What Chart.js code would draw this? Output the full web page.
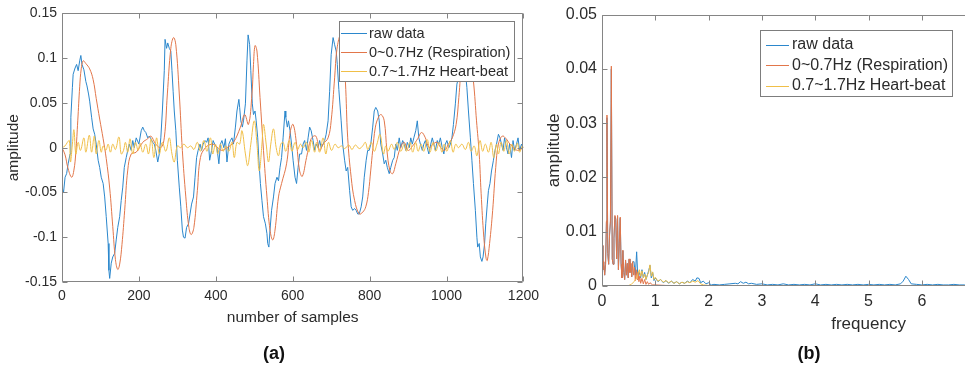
<!DOCTYPE html>
<html><head><meta charset="utf-8">
<script src="https://cdn.jsdelivr.net/npm/chart.js@4.4.1/dist/chart.umd.min.js"></script>
<style>
html,body{margin:0;padding:0;background:#fff;overflow:hidden;width:965px;height:367px;}
#wrap{position:relative;width:965px;height:367px;overflow:hidden;}
#ca{position:absolute;left:0;top:0;}
#cb{position:absolute;left:540px;top:0;}
.lab{position:absolute;font-family:"Liberation Sans",Arial,sans-serif;font-weight:bold;font-size:18px;color:#111;transform:translate(-50%,-50%);white-space:nowrap;}
</style></head><body>
<div id="wrap">
<canvas id="ca" width="545" height="367"></canvas>
<canvas id="cb" width="610" height="367"></canvas>
<div class="lab" style="left:274px;top:353px">(a)</div>
<div class="lab" style="left:809px;top:353px">(b)</div>
</div>
<script>
// ---------- labels ----------
const seriesNames = ['raw data', '0~0.7Hz (Respiration)', '0.7~1.7Hz Heart-beat'];
const panelA = { xTitle: 'number of samples', yTitle: 'amplitude' };
const panelB = { xTitle: 'frequency', yTitle: 'amplitude' };

// ---------- tick labels ----------
const xTicksA = [0, 200, 400, 600, 800, 1000, 1200];
const yTicksA = [-0.15, -0.1, -0.05, 0, 0.05, 0.1, 0.15];
const xTicksB = [0, 1, 2, 3, 4, 5, 6, 7, 8, 9, 10];
const yTicksB = [0, 0.01, 0.02, 0.03, 0.04, 0.05];

// ---------- (a) raw data ----------
const rawX = [0,4,8,12,16,21,23,27,29,34,
38,42,46,49,52,57,62,65,69,72,
77,81,85,89,94,98,102,107,111,115,
120,122,124,128,132,137,141,145,150,154,
158,162,167,171,175,180,184,188,193,200,
206,210,214,218,223,227,231,236,240,244,
249,253,257,261,266,268,272,275,279,283,
286,289,292,296,300,305,309,313,316,320,
324,329,333,337,342,346,350,354,359,363,
367,372,376,380,384,389,393,397,403,408,
412,416,421,425,429,434,438,442,446,451,
455,460,462,465,469,472,477,481,484,488,
491,495,498,502,505,509,512,516,520,524,
529,533,535,538,541,545,550,554,559,563,
567,571,575,580,582,586,589,593,597,601,
606,610,614,618,623,627,631,636,640,644,
648,653,657,661,666,670,674,679,683,687,
692,696,700,705,709,713,716,720,726,730,
735,739,743,748,752,756,761,765,769,773,
778,782,786,791,795,799,803,808,812,816,
821,825,829,834,838,842,846,851,855,860,
864,868,872,877,881,886,890,894,898,903,
907,911,915,920,924,928,932,937,941,945,
950,954,959,963,967,971,976,980,984,989,
993,997,1001,1006,1010,1014,1018,1023,1027,1031,
1038,1044,1049,1053,1057,1062,1066,1070,1075,1079,
1081,1085,1088,1092,1095,1099,1102,1106,1109,1113,
1117,1122,1126,1130,1135,1139,1143,1147,1151,1156,
1160,1164,1169,1173,1177,1182,1186,1190,1195,1199];
const rawY = [-0.044,-0.050,-0.033,-0.029,-0.018,-0.007,0.034,0.067,0.082,0.089,
0.093,0.086,0.097,0.103,0.093,0.087,0.074,0.069,0.060,0.052,
0.034,0.021,0.015,0.004,-0.014,-0.022,-0.033,-0.040,-0.055,-0.077,
-0.107,-0.137,-0.146,-0.129,-0.122,-0.118,-0.103,-0.089,-0.077,-0.059,
-0.044,-0.022,-0.011,-0.003,0.004,-0.003,0.008,0.000,0.011,0.004,
0.019,0.023,0.019,0.017,0.011,0.013,0.010,0.006,0.004,-0.003,
-0.016,-0.007,0.011,0.041,0.086,0.121,0.111,0.117,0.111,0.108,
0.086,0.063,0.041,0.019,-0.014,-0.044,-0.066,-0.092,-0.100,-0.101,
-0.089,-0.085,-0.074,-0.063,-0.055,-0.033,-0.011,-0.003,0.004,-0.003,
0.004,0.008,0.006,0.011,-0.014,-0.003,0.008,0.004,0.000,-0.018,
0.004,0.008,0.000,0.010,-0.016,0.004,0.008,0.011,0.004,0.023,
0.041,0.054,0.045,0.030,0.023,0.030,0.049,0.097,0.126,0.115,
0.086,0.049,0.037,0.041,0.030,0.011,-0.014,-0.040,-0.059,-0.077,
-0.085,-0.096,-0.107,-0.111,-0.092,-0.070,-0.055,-0.040,-0.033,-0.037,
-0.022,-0.011,0.011,0.041,0.034,0.023,0.030,0.019,0.004,-0.014,
-0.033,-0.040,-0.022,-0.007,-0.007,0.004,0.008,-0.003,0.011,0.023,
0.019,0.008,-0.003,0.004,0.000,0.008,0.000,0.004,0.008,0.015,
0.030,0.063,0.104,0.123,0.115,0.108,0.093,0.065,0.030,0.004,
-0.014,-0.026,-0.022,-0.048,-0.066,-0.070,-0.068,-0.070,-0.074,-0.074,
-0.066,-0.055,-0.033,-0.014,-0.003,-0.003,0.004,0.023,0.041,0.045,
0.041,0.030,0.004,-0.007,-0.018,-0.014,-0.022,-0.029,-0.022,-0.014,
-0.011,0.004,-0.003,0.011,0.000,0.008,0.004,-0.003,0.006,0.000,
0.011,0.004,0.011,0.019,0.030,0.011,0.004,-0.003,0.004,0.008,
0.000,-0.007,0.004,0.011,0.004,-0.003,0.008,0.004,0.011,0.000,
-0.007,0.004,0.008,0.000,0.004,0.011,0.026,0.049,0.071,0.078,
0.090,0.095,0.085,0.067,0.041,0.011,-0.014,-0.040,-0.070,-0.100,
-0.111,-0.107,-0.122,-0.127,-0.122,-0.107,-0.085,-0.063,-0.048,-0.040,
-0.026,-0.014,-0.003,0.004,0.015,0.011,0.004,-0.003,0.011,0.000,
-0.007,0.004,-0.011,0.008,-0.003,0.004,0.011,-0.003,0.004,0.000];

// ---------- (a) respiration band ----------
const respX = [0,8,15,25,31,36,41,46,50,55,
62,72,81,89,98,107,115,124,132,139,
145,150,156,163,171,180,193,210,223,231,
244,257,266,274,283,290,296,305,313,322,
330,336,343,352,360,373,390,400,415,429,
446,464,475,485,494,498,502,507,515,524,
533,541,548,554,563,571,584,594,601,610,
618,625,636,648,660,670,679,692,700,709,
715,724,732,737,743,752,761,773,782,790,
797,803,808,815,823,830,838,845,853,860,
868,880,890,900,912,925,935,945,955,965,
975,985,995,1005,1015,1025,1032,1040,1050,1060,
1070,1078,1085,1090,1097,1103,1106,1112,1120,1128,
1135,1145,1155,1165,1175,1185,1200];
const respY = [0.000,-0.008,-0.022,-0.033,-0.025,-0.005,0.030,0.068,0.088,0.097,
0.094,0.088,0.076,0.055,0.032,0.010,-0.012,-0.045,-0.088,-0.125,
-0.136,-0.130,-0.108,-0.070,-0.025,-0.007,-0.005,0.006,0.010,0.013,
0.004,0.000,0.011,0.060,0.111,0.123,0.115,0.060,-0.003,-0.055,
-0.089,-0.097,-0.089,-0.048,-0.011,0.000,0.004,0.002,-0.003,0.000,
0.006,0.023,0.037,0.026,0.060,0.093,0.114,0.108,0.056,-0.003,
-0.055,-0.092,-0.103,-0.092,-0.055,-0.040,-0.018,0.019,0.026,0.004,
-0.026,-0.032,-0.011,0.010,0.013,-0.003,0.004,0.011,0.030,0.078,
0.110,0.125,0.100,0.074,0.011,-0.033,-0.059,-0.074,-0.072,-0.066,
-0.050,-0.025,-0.003,0.023,0.034,0.037,0.030,-0.003,-0.026,-0.029,
-0.018,0.000,0.006,-0.003,0.002,0.010,0.017,0.011,0.000,0.004,
0.006,0.000,-0.003,0.004,0.011,0.026,0.056,0.097,0.118,0.105,
0.074,0.030,-0.007,-0.051,-0.100,-0.124,-0.126,-0.107,-0.070,-0.022,
0.004,0.013,0.010,0.004,0.000,-0.003,0.000];

// ---------- (a) heart-beat band ----------
const heartX = [0,8,14,19,22,27,31,36,42,48,
57,62,71,77,84,89,96,102,107,114,
120,126,132,139,148,154,160,165,171,177,
184,191,198,203,210,218,225,232,239,246,
253,261,270,279,286,292,300,309,317,326,
335,343,352,360,369,377,386,392,399,405,
412,419,426,434,442,448,455,462,468,477,
483,491,500,507,513,520,524,531,537,543,
550,557,563,569,575,582,591,598,606,613,
620,627,636,642,649,657,662,670,679,686,
693,701,710,718,727,735,746,754,763,773,
782,789,795,800,805,812,819,827,836,842,
848,857,864,872,881,890,896,905,912,920,
926,934,941,950,957,965,972,981,988,994,
1001,1010,1017,1024,1031,1040,1049,1057,1064,1072,
1079,1087,1094,1101,1109,1116,1123,1130,1135,1142,
1149,1156,1163,1170,1177,1184,1190,1197,1200];
const heartY = [0.000,0.002,0.006,0.008,-0.016,0.004,0.020,-0.007,0.006,-0.003,
0.011,-0.005,0.014,-0.005,0.013,-0.007,0.008,-0.005,0.002,-0.003,
0.004,-0.005,0.004,-0.002,0.012,-0.007,-0.003,0.006,-0.005,0.010,
-0.007,0.006,-0.003,0.005,-0.005,0.004,-0.007,0.010,-0.011,0.011,
-0.007,0.006,-0.004,0.011,-0.007,-0.016,0.002,0.000,0.004,0.000,
0.002,-0.002,0.006,-0.004,0.008,-0.004,0.011,-0.007,0.004,-0.007,
0.004,-0.004,0.002,-0.004,0.006,-0.011,0.006,0.004,0.019,-0.007,
-0.020,0.004,0.030,0.004,-0.026,0.004,0.026,0.004,-0.016,0.004,
0.021,0.000,-0.009,0.004,0.006,-0.004,0.008,-0.004,0.006,-0.002,
0.004,0.000,0.006,-0.005,0.008,-0.005,0.006,-0.005,0.011,-0.007,
0.006,-0.003,0.004,0.000,0.002,-0.001,0.003,-0.002,0.003,-0.001,
0.002,0.006,-0.002,0.002,0.006,-0.004,0.004,0.015,-0.007,0.002,
-0.004,0.004,-0.002,0.006,-0.004,0.004,-0.004,0.006,-0.005,0.006,
-0.004,0.004,-0.004,0.009,-0.005,0.006,-0.004,0.006,-0.005,0.004,
-0.004,0.008,-0.005,0.004,0.000,0.004,-0.002,0.006,-0.004,0.002,
-0.009,0.008,-0.004,0.004,-0.005,0.006,-0.011,0.004,-0.007,0.006,
-0.004,0.008,-0.007,0.004,-0.004,0.005,-0.005,0.002,0.000];

// ---------- (b) spectra ----------
const rawFX = [0,0.017,0.033,0.05,0.067,0.083,0.093,0.108,0.125,0.142,
0.158,0.175,0.192,0.208,0.225,0.242,0.258,0.275,0.292,0.308,
0.325,0.342,0.358,0.375,0.392,0.408,0.425,0.442,0.458,0.475,
0.492,0.508,0.525,0.542,0.558,0.575,0.6,0.625,0.65,0.67,
0.7,0.725,0.75,0.775,0.8,0.825,0.85,0.875,0.9,0.925,
0.95,0.975,1.0,1.05,1.1,1.15,1.2,1.25,1.3,1.35,
1.4,1.45,1.5,1.55,1.6,1.65,1.7,1.75,1.78,1.82,
1.85,1.9,1.95,2.0,2.05,2.1,2.2,2.3,2.4,2.5,
2.55,2.6,2.65,2.7,2.75,2.8,2.9,3.0,3.1,3.2,
3.3,3.4,3.5,3.6,3.7,3.8,3.9,4.0,4.1,4.2,
4.3,4.4,4.5,4.6,4.7,4.8,4.9,5.0,5.1,5.2,
5.3,5.4,5.5,5.6,5.65,5.7,5.75,5.8,5.9,6.0,
6.1,6.2,6.3,6.4,6.5,6.6,6.7,6.8,7,8,
9,10];
const rawFY = [0.0074,0.003,0.0044,0.002,0.004,0.0118,0.031,0.006,0.004,0.0094,
0.0118,0.040,0.005,0.004,0.0088,0.0128,0.0123,0.005,0.0128,0.003,
0.0079,0.0125,0.004,0.0015,0.0065,0.0025,0.0012,0.0047,0.002,0.0041,
0.0015,0.0049,0.0025,0.0041,0.0017,0.0044,0.0045,0.002,0.0063,0.002,
0.0025,0.0015,0.003,0.0015,0.0025,0.0012,0.002,0.0028,0.0038,0.0015,
0.0025,0.001,0.0015,0.0008,0.0012,0.0006,0.001,0.0005,0.0009,0.0005,
0.0008,0.0004,0.0007,0.0005,0.0009,0.0006,0.0012,0.0009,0.0015,0.0014,
0.0006,0.0009,0.0004,0.0006,0.0002,0.0003,0.0002,0.0003,0.0004,0.0005,
0.0004,0.0008,0.0005,0.0007,0.0004,0.0005,0.0003,0.0004,0.0002,0.0003,
0.0002,0.0004,0.0002,0.0003,0.0002,0.0003,0.0002,0.0004,0.0002,0.0003,
0.0002,0.0003,0.0002,0.0003,0.0002,0.0003,0.0002,0.0003,0.0002,0.0003,
0.0002,0.0003,0.0002,0.0004,0.0009,0.0018,0.0012,0.0004,0.0003,0.0002,
0.0003,0.0002,0.0003,0.0002,0.0002,0.0003,0.0002,0.0002,0.0002,0.0002,
0.0002,0.0002];
const respFX = [0,0.017,0.033,0.05,0.067,0.083,0.093,0.108,0.125,0.142,
0.158,0.175,0.192,0.208,0.225,0.242,0.258,0.275,0.292,0.308,
0.325,0.342,0.358,0.375,0.392,0.408,0.425,0.442,0.458,0.475,
0.492,0.508,0.525,0.542,0.558,0.575,0.592,0.608,0.625,0.642,
0.658,0.675,0.692,0.708,0.725,0.75,0.775,0.8,0.825,0.85,
0.875,0.9,0.95,1.0,1.2,2,10];
const respFY = [0.0075,0.003,0.0045,0.002,0.004,0.012,0.0315,0.006,0.004,0.0095,
0.012,0.0405,0.005,0.004,0.009,0.013,0.0125,0.005,0.013,0.003,
0.008,0.0127,0.004,0.0015,0.0066,0.0025,0.0012,0.0048,0.002,0.0042,
0.0015,0.005,0.0025,0.0042,0.0017,0.0045,0.002,0.0035,0.001,0.003,
0.0012,0.0026,0.0008,0.0018,0.0005,0.0014,0.0004,0.0012,0.0003,0.0008,
0.0003,0.0006,0.0002,0.0002,0.0001,0.00005,0];
const heartFX = [0,0.5,0.55,0.6,0.65,0.7,0.725,0.75,0.775,0.8,
0.825,0.85,0.875,0.9,0.925,0.95,0.975,1.0,1.05,1.1,
1.15,1.2,1.25,1.3,1.35,1.4,1.45,1.5,1.55,1.6,
1.65,1.7,1.75,1.8,1.85,1.9,2.0,2.5,10];
const heartFY = [0,0.0001,0.0003,0.0008,0.0015,0.003,0.0018,0.0028,0.0015,0.0022,
0.0012,0.002,0.0025,0.0039,0.0018,0.0026,0.0012,0.0016,0.0009,0.0012,
0.0007,0.001,0.0006,0.0009,0.0005,0.0008,0.0004,0.0007,0.0005,0.0008,
0.0006,0.0009,0.0007,0.001,0.0004,0.0002,0.0001,0,0];

// ---------- styling ----------
const colors = ['#2b87cc', '#e2764a', '#f0bf48'];
const textColor = '#2b2b2b';
const frameColor = '#858585';
const FONT = '"Liberation Sans", Arial, sans-serif';
Chart.defaults.font.family = FONT;
Chart.defaults.color = textColor;

const pts = (xs, ys) => xs.map((x, i) => ({ x: x, y: ys[i] }));

const framePlugin = {
  id: 'matlabFrame',
  afterDatasetsDraw(chart, args, opts) {
    const { ctx, chartArea: a, scales } = chart;
    ctx.save();
    ctx.lineWidth = 1;
    ctx.strokeStyle = frameColor;
    const L = Math.round(a.left) + 0.5, R = Math.round(a.right) - 0.5;
    const T = Math.round(a.top) + 0.5, B = Math.round(a.bottom) - 0.5;
    const tl = opts.tickLen;
    ctx.beginPath();
    ctx.rect(L, T, R - L, B - T);
    scales.x.ticks.forEach(t => {
      const p = Math.round(scales.x.getPixelForValue(t.value)) + 0.5;
      if (p < a.left - 1 || p > a.right + 1) return;
      ctx.moveTo(p, B); ctx.lineTo(p, B - tl);
      ctx.moveTo(p, T); ctx.lineTo(p, T + tl);
    });
    scales.y.ticks.forEach(t => {
      const p = Math.round(scales.y.getPixelForValue(t.value)) + 0.5;
      ctx.moveTo(L, p); ctx.lineTo(L + tl, p);
      ctx.moveTo(R, p); ctx.lineTo(R - tl, p);
    });
    ctx.stroke();
    // legend
    const lg = opts.legend;
    ctx.fillStyle = '#ffffff';
    ctx.fillRect(lg.x, lg.y, lg.w, lg.h);
    ctx.strokeStyle = '#7d7d7d';
    ctx.strokeRect(lg.x + 0.5, lg.y + 0.5, lg.w, lg.h);
    ctx.font = lg.font;
    ctx.textBaseline = 'middle';
    ctx.textAlign = 'left';
    chart.data.datasets.forEach((ds, i) => {
      const y = lg.rows[i];
      ctx.strokeStyle = ds.borderColor;
      ctx.beginPath();
      ctx.moveTo(lg.x1, Math.round(y) + 0.5);
      ctx.lineTo(lg.x2, Math.round(y) + 0.5);
      ctx.stroke();
      ctx.fillStyle = textColor;
      ctx.fillText(ds.label, lg.tx, y + 0.5);
    });
    ctx.restore();
  }
};

function fixedTicks(arr) {
  return function (scale) { scale.ticks = arr.map(v => ({ value: v })); };
}

function makeChart(canvas, cfg) {
  return new Chart(canvas, {
    type: 'line',
    data: {
      datasets: [
        { label: seriesNames[0], data: cfg.d0, borderColor: colors[0], borderWidth: 1, pointRadius: 0, tension: cfg.t0, order: 3 },
        { label: seriesNames[1], data: cfg.d1, borderColor: colors[1], borderWidth: 1, pointRadius: 0, tension: cfg.t1, order: 2 },
        { label: seriesNames[2], data: cfg.d2, borderColor: colors[2], borderWidth: 1, pointRadius: 0, tension: cfg.t2, order: 1 }
      ]
    },
    options: {
      responsive: false,
      animation: false,
      events: [],
      layout: { padding: cfg.padding },
      plugins: {
        legend: { display: false },
        tooltip: { enabled: false },
        matlabFrame: { tickLen: cfg.tickLen, legend: cfg.legend }
      },
      scales: {
        x: {
          type: 'linear', min: cfg.xMin, max: cfg.xMax,
          grid: { display: false, drawTicks: false },
          border: { display: false },
          afterBuildTicks: fixedTicks(cfg.xTicks),
          afterFit: s => { s.height = cfg.xHeight; },
          ticks: { autoSkip: false, maxRotation: 0, padding: cfg.xTickPad, color: textColor,
                   font: { size: cfg.tickFont, family: FONT }, callback: v => String(v) },
          title: { display: true, text: cfg.xTitle, color: textColor,
                   font: { size: cfg.titleFont, family: FONT, lineHeight: 1 },
                   padding: { top: 0, bottom: cfg.xTitlePad } }
        },
        y: {
          type: 'linear', min: cfg.yMin, max: cfg.yMax,
          grid: { display: false, drawTicks: false },
          border: { display: false },
          afterBuildTicks: fixedTicks(cfg.yTicks),
          afterFit: s => { s.width = cfg.yWidth; },
          ticks: { autoSkip: false, padding: 5, color: textColor,
                   font: { size: cfg.tickFont, family: FONT }, callback: v => String(v) },
          title: { display: true, text: cfg.yTitle, color: textColor,
                   font: { size: cfg.titleFont, family: FONT, lineHeight: 1 },
                   padding: { top: cfg.yTitlePad, bottom: 0 } }
        }
      }
    },
    plugins: [framePlugin]
  });
}

makeChart(document.getElementById('ca'), {
  d0: pts(rawX, rawY), d1: pts(respX, respY), d2: pts(heartX, heartY),
  t0: 0, t1: 0.4, t2: 0.4,
  padding: { left: 0, right: 18, top: 12, bottom: 25 },
  xMin: 0, xMax: 1200, yMin: -0.15, yMax: 0.15,
  xTicks: xTicksA, yTicks: yTicksA,
  xHeight: 60, yWidth: 62, xTickPad: 6, tickFont: 14, titleFont: 15.5,
  xTitle: panelA.xTitle, yTitle: panelA.yTitle, xTitlePad: 17, yTitlePad: 6,
  tickLen: 5,
  legend: { x: 339, y: 21, w: 175, h: 60, x1: 341, x2: 367, tx: 369, rows: [33, 52, 71],
            font: '14.5px ' + FONT }
});

makeChart(document.getElementById('cb'), {
  d0: pts(rawFX, rawFY), d1: pts(respFX, respFY), d2: pts(heartFX, heartFY),
  t0: 0, t1: 0, t2: 0,
  padding: { left: 0, right: 11, top: 13, bottom: 21 },
  xMin: 0, xMax: 10, yMin: 0, yMax: 0.05,
  xTicks: xTicksB, yTicks: yTicksB,
  xHeight: 60, yWidth: 62, xTickPad: 6, tickFont: 16, titleFont: 17,
  xTitle: panelB.xTitle, yTitle: panelB.yTitle, xTitlePad: 13.5, yTitlePad: 5.5,
  tickLen: 5,
  legend: { x: 220, y: 30, w: 192, h: 66, x1: 226, x2: 249, tx: 252, rows: [44.5, 65, 85.5],
            font: '16px ' + FONT }
});
</script>
</body></html>
